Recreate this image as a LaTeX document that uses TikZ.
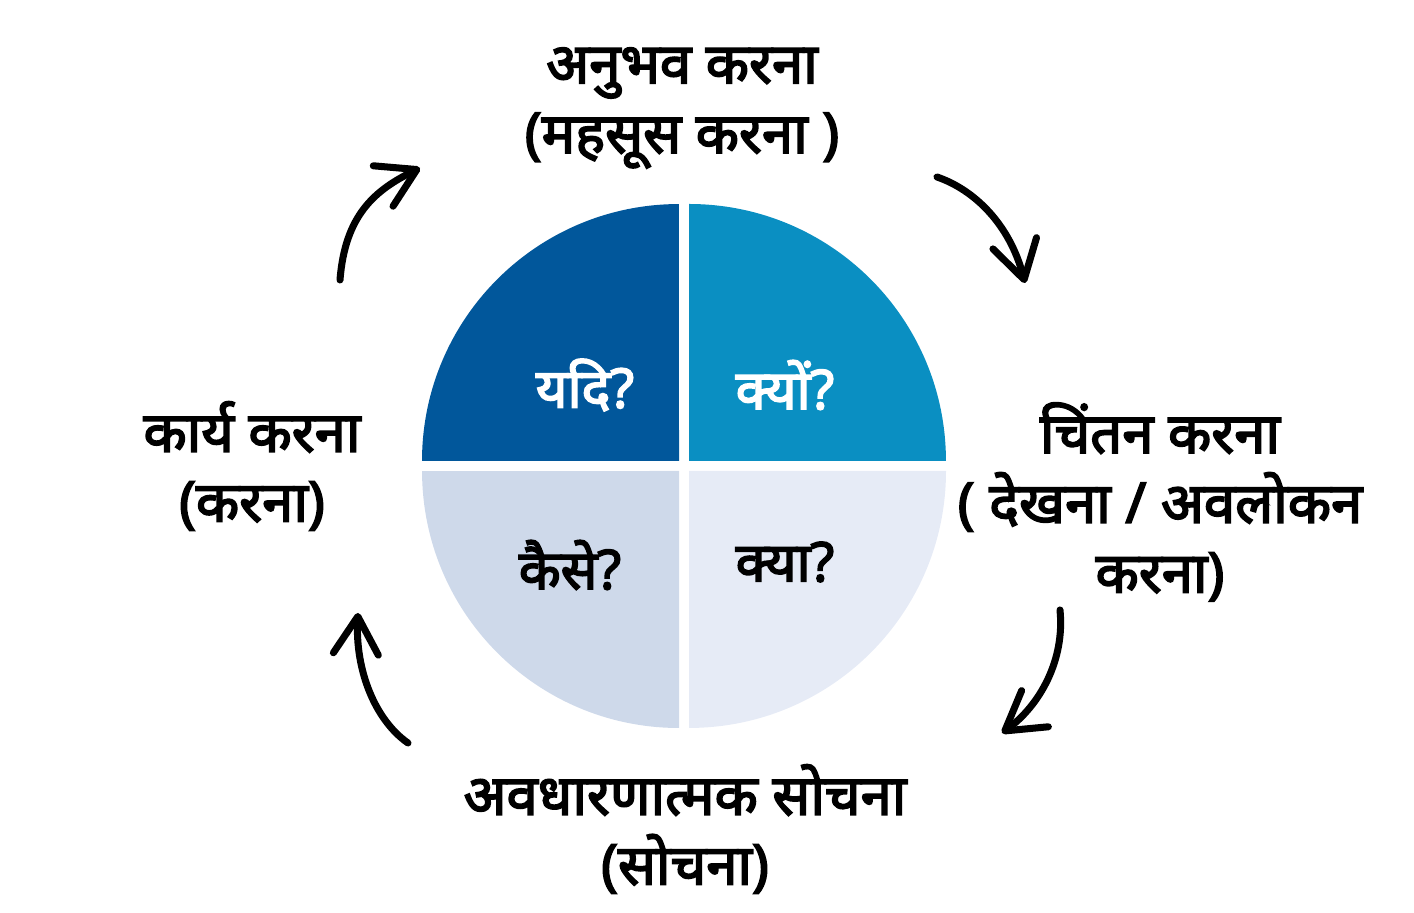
\documentclass[tikz,border=0pt]{standalone}
\usepackage{fontspec}
\newfontfamily\hindi[Script=Devanagari,FakeBold=3]{Noto Sans}
\usetikzlibrary{arrows.meta}

\definecolor{darkblue}{HTML}{01579B}
\definecolor{midblue}{HTML}{0A8FC2}
\definecolor{paleblue}{HTML}{CED9EA}
\definecolor{lightblue}{HTML}{E6EBF6}

\tikzset{
  label/.style={align=center,font=\hindi\fontsize{32}{39.7}\selectfont},
  quarter/.style={font=\hindi\fontsize{31}{34}\selectfont},
  cycle/.style={line width=4pt,line cap=round,line join=round,
    -{Straight Barb[length=0.75cm,width=0.9cm,round]}}
}

\begin{document}
\begin{tikzpicture}[x=0.02cm,y=0.02cm]

\useasboundingbox (0,0) rectangle (1414,913);

% four quarters of the disc
\fill[darkblue] (679,452) -- ++(-257,0) arc[start angle=180,end angle=90,radius=5.14cm] -- cycle;
\fill[midblue] (689,452) -- ++(0,257) arc[start angle=90,end angle=0,radius=5.14cm] -- cycle;
\fill[paleblue] (679,442) -- ++(0,-257) arc[start angle=270,end angle=180,radius=5.14cm] -- cycle;
\fill[lightblue] (689,442) -- ++(257,0) arc[start angle=0,end angle=-90,radius=5.14cm] -- cycle;

\node[quarter,white] (if) at (585,528) {यदि?};
\node[quarter,white] (why) at (785,528) {क्यों?};
\node[quarter] (how) at (570,348) {कैसे?};
\node[quarter] (what) at (785,351) {क्या?};

% stages
\node[label] (feel) at (682,805) {अनुभव करना\\(महसूस करना )};
\node[label] (watch) at (1160,411) {चिंतन करना\\( देखना / अवलोकन\\करना)};
\node[label] (think) at (685,84) {अवधारणात्मक सोचना\\(सोचना)};
\node[label] (act) at (252,447) {कार्य करना\\(करना)};

% arrows between the stages
\coordinate (a1) at (340,633);
\coordinate (b1) at (420,745);
\coordinate (a2) at (937,736);
\coordinate (b2) at (1025,630);
\coordinate (a3) at (1060,303);
\coordinate (b3) at (1002,180);
\coordinate (a4) at (408,170);
\coordinate (b4) at (358,300);

\draw[cycle] (a1) .. controls (345,698) and (375,723) .. (b1);
\draw[cycle] (a2) .. controls (975,723) and (1010,688) .. (b2);
\draw[cycle] (a3) .. controls (1065,253) and (1040,208) .. (b3);
\draw[cycle] (a4) .. controls (375,193) and (355,243) .. (b4);

\end{tikzpicture}
\end{document}
